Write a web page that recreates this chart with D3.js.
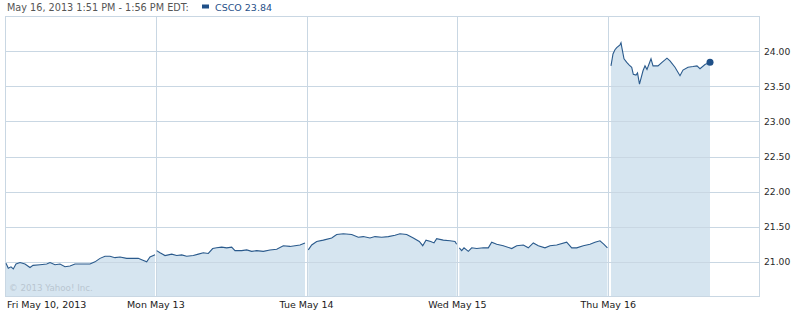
<!DOCTYPE html>
<html>
<head>
<meta charset="utf-8">
<script src="https://cdn.jsdelivr.net/npm/d3@7"></script>
<style>
  html, body { margin: 0; padding: 0; background: #fff; }
  svg { display: block; font-family: Verdana, "DejaVu Sans", sans-serif; }
</style>
</head>
<body>
<svg id="chart" width="797" height="312"></svg>
<script>
// [minute of session, price]
const fri = [[2.6,20.98],[8.5,20.91],[15.5,20.93],[21.5,20.90],[28.4,20.97],[38.8,20.99],[51.7,20.97],[64.7,20.92],[72.4,20.95],[90.5,20.96],[107.8,20.97],[116.4,20.99],[129.3,20.96],[142.2,20.97],[155.2,20.93],[168.1,20.94],[181,20.97],[198.4,20.97],[219.8,20.97],[232.7,21.00],[245.7,21.05],[258.6,21.08],[271.5,21.08],[284.5,21.06],[297.4,21.07],[314.7,21.05],[331.8,21.05],[344.7,21.05],[353.5,21.03],[366.4,21.00],[375,21.07],[388,21.10]];
const mon = [[2.3,21.16],[10.9,21.13],[23.8,21.09],[41.1,21.11],[54,21.09],[67,21.10],[79.9,21.08],[97,21.09],[110,21.11],[122.8,21.13],[135.8,21.12],[147.1,21.19],[157.4,21.20],[170.4,21.21],[183.3,21.20],[196.2,21.21],[204.8,21.16],[222.1,21.16],[235,21.17],[247.9,21.15],[260.8,21.16],[278,21.15],[295.3,21.17],[312.7,21.18],[329.7,21.23],[347,21.22],[360,21.23],[372.9,21.24],[385.8,21.27]];
const tue = [[4.4,21.17],[13.2,21.24],[26.1,21.29],[43.2,21.31],[64.9,21.34],[77.8,21.39],[94.9,21.40],[116.6,21.39],[133.7,21.35],[146.6,21.36],[163.9,21.34],[176.9,21.36],[194.2,21.35],[211.3,21.36],[228.6,21.38],[241.5,21.40],[258.9,21.39],[276,21.34],[291.5,21.29],[300.3,21.23],[308.8,21.31],[321,21.29],[329.5,21.27],[336.4,21.33],[353.5,21.31],[370.8,21.30],[383.8,21.29],[388,21.25]];
const wed = [[4.9,21.20],[11.1,21.16],[17.1,21.20],[28.2,21.15],[37,21.20],[49.9,21.19],[67,21.20],[79.9,21.20],[88.7,21.28],[101.6,21.25],[118.7,21.23],[140.4,21.19],[153.4,21.23],[170.5,21.24],[183.4,21.20],[196.3,21.27],[209.3,21.23],[226.5,21.20],[239.5,21.23],[256.8,21.24],[282.6,21.28],[295.6,21.20],[308.5,21.20],[325.6,21.23],[342.9,21.25],[355.8,21.28],[368.8,21.30],[379.1,21.25],[388,21.20]];
const thu = [[7.2,23.79],[12.4,23.96],[17.5,24.02],[22,24.05],[30.5,24.09],[33.1,24.12],[35.7,24.04],[40.9,23.89],[48,23.84],[54.5,23.80],[60.8,23.77],[64.9,23.67],[71.9,23.66],[75.8,23.69],[80.9,23.53],[90,23.72],[95.2,23.79],[100.3,23.74],[110.7,23.89],[115.9,23.79],[128.8,23.79],[139.1,23.84],[152,23.90],[159.8,23.86],[172.7,23.77],[185.7,23.65],[193.4,23.73],[206.4,23.77],[219.3,23.78],[229.6,23.79],[237.4,23.75],[250.3,23.81],[263.3,23.84]];

const sessions = [fri, mon, tue, wed, thu];
const dayLabels = ["Fri May 10, 2013", "Mon May 13", "Tue May 14", "Wed May 15", "Thu May 16"];
const yTicks = [21.0, 21.5, 22.0, 22.5, 23.0, 23.5, 24.0];
const header = "May 16, 2013 1:51 PM - 1:56 PM EDT:";
const legendLabel = "CSCO 23.84";
const sessionMinutes = 390;

const svg = d3.select('#chart');
const plotLeft = 5, plotRight = 759, plotTop = 16, plotBottom = 297;

const x = d3.scaleLinear().domain([0, sessions.length]).range([plotLeft, plotRight]);
const y = d3.scaleLinear().domain([20.5, 24.5]).range([plotBottom, plotTop]);
const gridColor = '#c9d7e3';

// Area fills, one per session
const area = d3.area()
  .x(d => d.x)
  .y0(y(20.5))
  .y1(d => y(d.p));
const line = d3.line()
  .x(d => d.x)
  .y(d => y(d.p));

const pts = sessions.map((s, i) => s.map(d => ({ x: x(i + d[0] / sessionMinutes), p: d[1] })));

svg.append('g')
  .selectAll('path')
  .data(pts)
  .join('path')
  .attr('d', area)
  .attr('fill', '#d6e5f0');

// Grid
svg.append('g')
  .selectAll('line')
  .data(yTicks)
  .join('line')
  .attr('x1', plotLeft).attr('x2', plotRight)
  .attr('y1', d => Math.round(y(d)) + 0.5).attr('y2', d => Math.round(y(d)) + 0.5)
  .attr('stroke', gridColor)
  .attr('stroke-width', 1);

svg.append('g')
  .selectAll('line')
  .data(d3.range(1, sessions.length))
  .join('line')
  .attr('x1', d => Math.round(x(d)) + 0.5).attr('x2', d => Math.round(x(d)) + 0.5)
  .attr('y1', plotTop).attr('y2', plotBottom)
  .attr('stroke', gridColor)
  .attr('stroke-width', 1);

// Frame
svg.append('rect')
  .attr('x', plotLeft + 0.5).attr('y', plotTop + 0.5)
  .attr('width', plotRight - plotLeft).attr('height', plotBottom - plotTop - 1)
  .attr('fill', 'none')
  .attr('stroke', gridColor);

// Price lines
svg.append('g')
  .selectAll('path')
  .data(pts)
  .join('path')
  .attr('d', line)
  .attr('fill', 'none')
  .attr('stroke', '#2a5a8c')
  .attr('stroke-width', 1.1);

// Last point marker
const last = pts[pts.length - 1][pts[pts.length - 1].length - 1];
svg.append('circle')
  .attr('cx', last.x).attr('cy', y(last.p))
  .attr('r', 3.5)
  .attr('fill', '#1f5088');

// Copyright
svg.append('text')
  .attr('x', 9).attr('y', 291)
  .attr('font-size', 8.7)
  .attr('fill', '#b9c6d1')
  .text('\u00a9 2013 Yahoo! Inc.');

// Y axis labels
svg.append('g')
  .selectAll('text')
  .data(yTicks)
  .join('text')
  .attr('x', 764)
  .attr('y', d => y(d))
  .attr('dy', '0.38em')
  .attr('font-size', 9.2)
  .attr('fill', '#2a2a2a')
  .text(d3.format('.2f'));

// X axis labels
svg.append('g')
  .selectAll('text')
  .data(dayLabels)
  .join('text')
  .attr('x', (d, i) => i === 0 ? 7 : x(i))
  .attr('y', 308)
  .attr('text-anchor', (d, i) => i === 0 ? 'start' : 'middle')
  .attr('font-size', 9.5)
  .attr('fill', '#1a1a1a')
  .text(d => d);

// Header / legend
svg.append('text')
  .attr('x', 7).attr('y', 10.5)
  .attr('font-size', 9.7)
  .attr('fill', '#555')
  .text(header);
svg.append('rect')
  .attr('x', 202).attr('y', 4.5)
  .attr('width', 7).attr('height', 4)
  .attr('fill', '#1f5088');
svg.append('text')
  .attr('x', 215).attr('y', 10.5)
  .attr('font-size', 9.5)
  .attr('fill', '#1f5088')
  .text(legendLabel);
</script>
</body>
</html>
